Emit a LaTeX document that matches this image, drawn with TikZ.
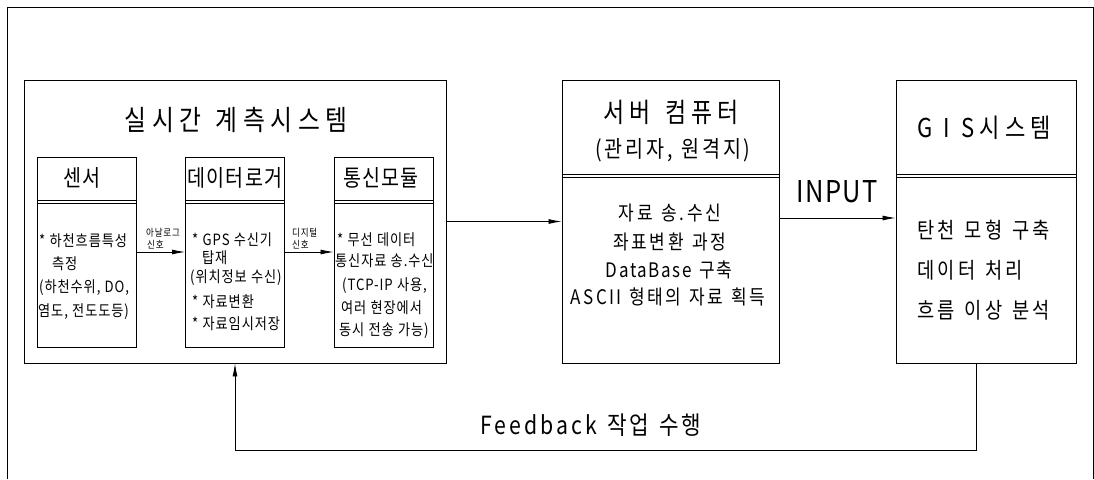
\documentclass[tikz,border=0pt]{standalone}
\usepackage{fontspec}
\setmainfont{Noto Sans CJK KR}[FakeStretch=0.85]
\usetikzlibrary{arrows.meta,calc}
\newcommand\myfs[3]{\fontsize{#1}{#1}\selectfont\addfontfeatures{LetterSpace=#2}\spaceskip=#3\fontdimen2\font\relax}
\begin{document}
\begin{tikzpicture}[x=1pt,y=-1pt,
  box/.style={draw, line width=0.9pt, inner sep=0pt},
  arr/.style={line width=0.8pt, -{Latex[length=13pt,width=5pt]}},
  line/.style={line width=0.8pt},
  lt/.style={anchor=west, inner sep=0pt, font=\myfs{15.5}{6}{1.1}},
  sm/.style={anchor=west, inner sep=0pt, font=\myfs{10}{8}{1}}]
\useasboundingbox (0,0) rectangle (1094,479);
% outer frame (open at bottom)
\coordinate (fl) at (7.5,479);
\coordinate (fr) at (1093,479);
\draw[line] (fl) |- (fr |- 0,7) -- (fr);

% real-time measurement system
\node[box, minimum width=422pt, minimum height=283pt] (rt) at (235,221.5) {};
\node[font=\myfs{28}{20}{1.3}] (rtT) at (236,120) {실시간 계측시스템};

\node[box, minimum width=99pt, minimum height=190pt] (s) at (86.5,252) {};
\node[box, minimum width=99pt, minimum height=190pt] (l) at (235,252) {};
\node[box, minimum width=99pt, minimum height=190pt] (c) at (383.5,252) {};
\foreach \b in {s,l,c}{
  \draw[line width=0.6pt] ($(\b.north west)+(0,44)$) -- ($(\b.north east)+(0,44)$);
  \draw[line width=0.6pt] ($(\b.north west)+(0,47)$) -- ($(\b.north east)+(0,47)$);
}
\node[font=\myfs{23}{8}{1}] (sH) at (82,178) {센서};
\node[font=\myfs{23}{5}{1}] (lH) at (235,178) {데이터로거};
\node[font=\myfs{23}{5}{1}] (cH) at (381,178) {통신모듈};

\node[lt] (s1) at (39,241) {* 하천흐름특성};
\node[lt] (s2) at (52,264) {측정};
\node[lt] (s3) at (39,288) {(하천수위, DO,};
\node[lt] (s4) at (38,312) {염도, 전도도등)};

\node[lt] (l1) at (192,240) {* GPS 수신기};
\node[lt] (l2) at (202,258) {탑재};
\node[lt] (l3) at (190,278) {(위치정보 수신)};
\node[lt] (l4) at (192,302) {* 자료변환};
\node[lt] (l5) at (192,324) {* 자료임시저장};

\node[lt] (c1) at (337,240) {* 무선 데이터};
\node[lt] (c2) at (335,261) {통신자료 송.수신};
\node[lt] (c3) at (342,286) {(TCP-IP 사용,};
\node[lt] (c4) at (341,308) {여러 현장에서};
\node[lt] (c5) at (339,331) {동시 전송 가능)};

\draw[arr] (s.east) -- (l.west);
\draw[arr] (l.east) -- (c.west);
\node[sm] (a1) at (146,233) {아날로그};
\node[sm] (a2) at (147,245) {신호};
\node[sm] (d1) at (292,233) {디지털};
\node[sm] (d2) at (292,245) {신호};

% server computer
\node[box, minimum width=217pt, minimum height=283pt] (sv) at (670.5,221.5) {};
\draw[line width=0.6pt] ($(sv.north west)+(0,95)$) -- ($(sv.north east)+(0,95)$);
\draw[line width=0.6pt] ($(sv.north west)+(0,98)$) -- ($(sv.north east)+(0,98)$);
\node[font=\myfs{27}{18}{1.5}] (svT) at (671,112) {서버 컴퓨터};
\node[font=\myfs{23}{12}{1.3}] (svS) at (673,150) {(관리자, 원격지)};
\node[font=\myfs{20}{13}{1.4}] (sv1) at (670,213) {자료 송.수신};
\node[font=\myfs{20}{13}{1.4}] (sv2) at (670,242) {좌표변환 과정};
\node[font=\myfs{20}{8}{1.4}] (sv3) at (669,270) {DataBase 구축};
\node[font=\myfs{20}{12}{1.3}] (sv4) at (668,297) {ASCII 형태의 자료 획득};

% GIS system
\node[box, minimum width=180pt, minimum height=283pt] (g) at (986,221.5) {};
\draw[line width=0.6pt] ($(g.north west)+(0,95)$) -- ($(g.north east)+(0,95)$);
\draw[line width=0.6pt] ($(g.north west)+(0,98)$) -- ($(g.north east)+(0,98)$);
\node[font=\myfs{26}{20}{1.1}] (gT) at (984,128) {G I S시스템};
\node[anchor=west, inner sep=0pt, font=\myfs{22}{15}{1.3}] (g1) at (917,230) {탄천 모형 구축};
\node[anchor=west, inner sep=0pt, font=\myfs{22}{15}{1.3}] (g2) at (917,270) {데이터 처리};
\node[anchor=west, inner sep=0pt, font=\myfs{22}{15}{1.3}] (g3) at (917,310) {흐름 이상 분석};

% connectors
\draw[arr] (rt.east) -- (rt.east -| sv.west);
\coordinate (ia) at ($(sv.east)+(0,-3.5)$);
\draw[arr] (ia) -- (ia -| g.west);
\node[font=\myfs{30}{5}{1}] (inp) at (837,192) {INPUT};

\coordinate (fb) at (976,450);
\draw[arr] (fb |- g.south) -- (fb) -| (rt.south);
\node[font=\myfs{25}{12}{1.3}] (fbT) at (591,425) {Feedback 작업 수행};
\end{tikzpicture}
\end{document}
